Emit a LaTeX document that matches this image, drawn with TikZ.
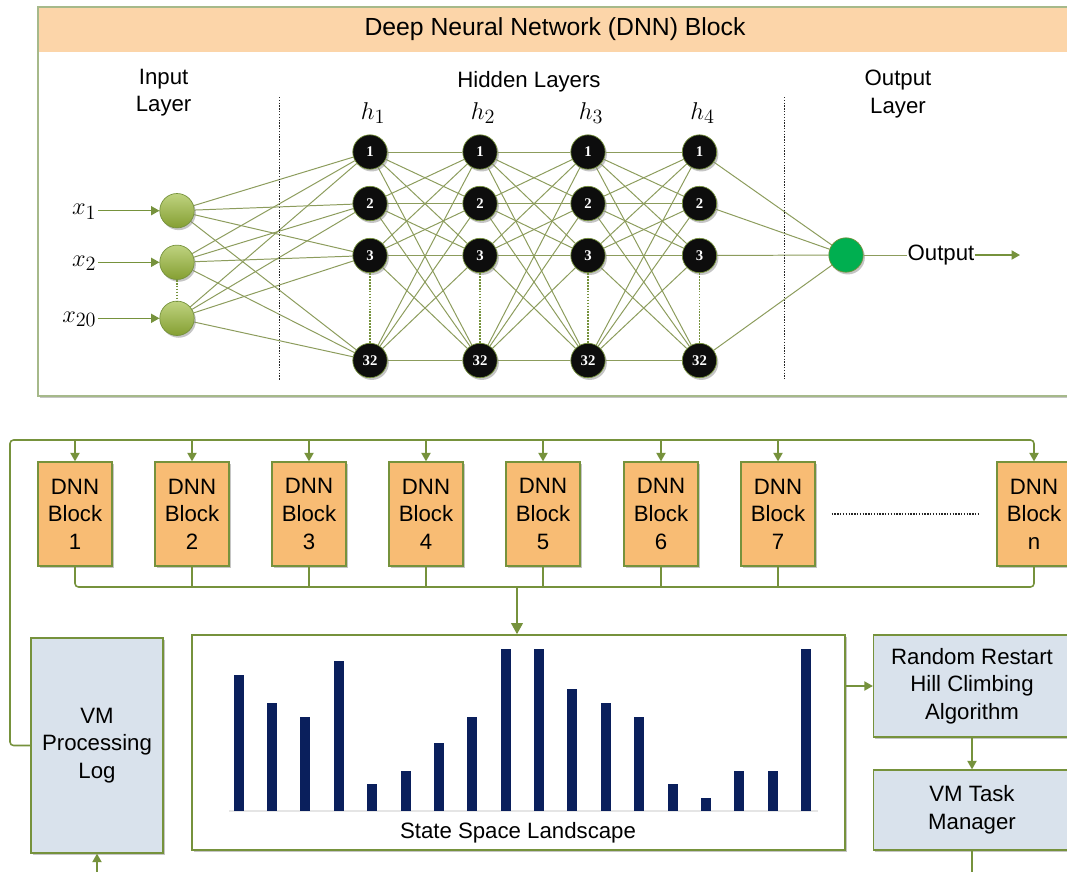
\documentclass[tikz,border=0pt]{standalone}
\usepackage[no-math]{fontspec}
\setmainfont{Liberation Sans}
\newfontfamily\cellfont{Liberation Serif}
\usetikzlibrary{arrows.meta,shadows,positioning}
\pgfdeclarelayer{bg}
\pgfdeclarelayer{wires}
\pgfsetlayers{bg,wires,main}

\definecolor{olivegreen}{HTML}{76923C}
\definecolor{wiregreen}{HTML}{8C9C5C}
\definecolor{framegreen}{HTML}{A6B98A}
\definecolor{peach}{HTML}{FCD5A9}
\definecolor{dnnorange}{HTML}{F8BC74}
\definecolor{paleblue}{HTML}{D9E2EC}
\definecolor{barnavy}{HTML}{0A1F5C}
\definecolor{inputgreen}{HTML}{9CBB3B}
\definecolor{outgreen}{HTML}{00AF50}

\tikzset{
  lbl/.style={font=\fontsize{15.8}{19.6}\selectfont, align=center, inner sep=1pt},
  mlbl/.style={font=\fontsize{19}{21}\selectfont, inner sep=1pt},
  boxshadow/.style={drop shadow={shadow xshift=1.2pt, shadow yshift=-1.6pt, opacity=.45}},
  hidn/.style={circle, fill=black!95, draw=olivegreen, line width=.5pt, minimum size=0.86cm, inner sep=0pt,
    text=white, font=\cellfont\bfseries\fontsize{10.5}{11}\selectfont, boxshadow},
  inpn/.style={circle, top color=inputgreen!65!white, bottom color=inputgreen!85!black, draw=olivegreen,
    line width=.5pt, minimum size=0.86cm, inner sep=0pt, boxshadow},
  outn/.style={circle, fill=outgreen, draw=olivegreen, line width=.5pt, minimum size=0.86cm, inner sep=0pt, boxshadow},
  wire/.style={draw=wiregreen, line width=.7pt},
  dotwire/.style={draw=olivegreen, line width=1pt, dash pattern=on 1.2pt off .9pt},
  layersep/.style={draw=black!85, line width=.8pt, dash pattern=on 1pt off 1pt},
  arr/.style={draw=olivegreen, line width=1pt, -{Triangle[length=6pt,width=6.5pt]}},
  bus/.style={draw=olivegreen, line width=1.1pt, rounded corners=2.5pt},
  dnnblk/.style={lbl, draw=olivegreen, line width=.9pt, fill=dnnorange, minimum width=1.85cm, minimum height=2.6cm, boxshadow},
  gbox/.style={lbl, draw=olivegreen, line width=.9pt, fill=paleblue, boxshadow},
}

\begin{document}
\begin{tikzpicture}[x=0.025cm,y=-0.025cm]
\clip (0,0) rectangle (1067,871);

% DNN block frame
\begin{pgfonlayer}{bg}
  \fill[white] (0,0) rectangle (1067,871);
  \draw[draw=framegreen, line width=1.2pt, fill=white, boxshadow] (38,7) rectangle (1090,396);
  \fill[peach] (38.6,7.6) rectangle (1090,52);
\end{pgfonlayer}
\node[lbl, font=\fontsize{17.6}{20}\selectfont] (title) at (555,29) {Deep Neural Network (DNN) Block};

\node[lbl] (inlayer) at (163.6,92.5) {Input\\Layer};
\node[lbl] (hidlayer) at (529,82) {Hidden Layers};
\node[lbl] (outlayer) at (898,94) {Output\\Layer};
\draw[layersep] (279.6,97) -- (279.6,381);
\draw[layersep] (784.5,97) -- (784.5,379);

\foreach \c/\x in {1/370,2/480,3/588,4/699.5}{
  \node[mlbl] (hl\c) at (\x+3,113) {$h_{\c}$};
  \foreach \r/\y in {1/152,2/203.5,3/255.5,32/360.5}
    \node[hidn] (h\c-\r) at (\x,\y) {\r};
  \draw[dotwire] (h\c-3) -- (h\c-32);
}

\foreach \n/\y in {1/210.7,2/262.3,20/318.3}{
  \node[inpn] (in\n) at (177,\y) {};
  \node[mlbl, anchor=east] (x\n) at (98,\y+1) {$x_{\n}$};
  \draw[arr] (x\n.east |- in\n) -- (in\n);
}
\draw[dotwire] (in2) -- (in20);

\node[outn] (out) at (846,255) {};
\node[lbl, inner sep=0pt] (outlbl) at (941,255) {Output};
\coordinate (outend) at (1020,255);
\draw[wire] (out) -- (outlbl);
\draw[arr] (outlbl) -- (outend);

\begin{pgfonlayer}{wires}
  \foreach \a in {1,2,20} \foreach \b in {1,2,3,32} \draw[wire] (in\a) -- (h1-\b);
  \foreach \c/\d in {1/2,2/3,3/4} \foreach \a in {1,2,3,32} \foreach \b in {1,2,3,32}
    \draw[wire] (h\c-\a) -- (h\d-\b);
  \foreach \b in {1,2,3,32} \draw[wire] (h4-\b) -- (out);
\end{pgfonlayer}

% DNN blocks
\foreach \i/\x in {1/75,2/192,3/309,4/426,5/543,6/661,7/778,n/1034}
  \node[dnnblk] (b\i) at (\x,514) {DNN\\Block\\\i};
\draw[layersep] ([xshift=0.4cm]b7.east) -- ([xshift=-0.45cm]bn.west);

\node[gbox, minimum width=3.3cm, minimum height=5.375cm] (vmlog) at (97,745.5) {VM\\Processing\\Log};
\node[draw=olivegreen, line width=.9pt, fill=white, minimum width=16.325cm, minimum height=5.375cm, boxshadow] (land) at (518.5,742.5) {};
\node[lbl] (landlbl) at (518,833) {State Space Landscape};
\node[gbox, minimum width=4.925cm, minimum height=2.55cm] (rr) at (972,686) {Random Restart\\Hill Climbing\\Algorithm};
\node[gbox, minimum width=4.925cm, minimum height=2cm] (vmtask) at (972,810) {VM Task\\Manager};

\draw[black!10, line width=.8pt] (229,811) -- (818,811);
\foreach \h [count=\k from 0] in {136,108,94,150,27,40,68,94,162,162,122,108,94,27,13,40,40,162}
  \fill[barnavy] (233.6+33.38*\k,811) rectangle +(10,-\h);

\coordinate (topbus) at (10,440);
\coordinate (lowbus) at (517,587);
\draw[bus, -{Triangle[length=6pt,width=6.5pt]}] (vmlog.west) -| (topbus) -| (bn.north);
\foreach \i in {1,...,7} \draw[arr] (b\i.north |- topbus) -- (b\i.north);
\draw[bus] (b1.south) |- (lowbus) -| (bn.south);
\foreach \i in {2,...,7} \draw[bus] (b\i.south) -- (b\i.south |- lowbus);
\draw[arr, line width=2pt, -{Triangle[length=8pt,width=8pt]}] (lowbus) -- (land.north -| lowbus);

\draw[arr] (land.east |- rr.west) -- (rr.west);
\draw[arr] (rr) -- (vmtask);
\coordinate (taskout) at (972,880);
\draw[bus] (vmtask.south) -- (taskout);
\coordinate (logfeed) at (97,880);
\draw[arr] (logfeed) -- (vmlog);
\end{tikzpicture}
\end{document}
